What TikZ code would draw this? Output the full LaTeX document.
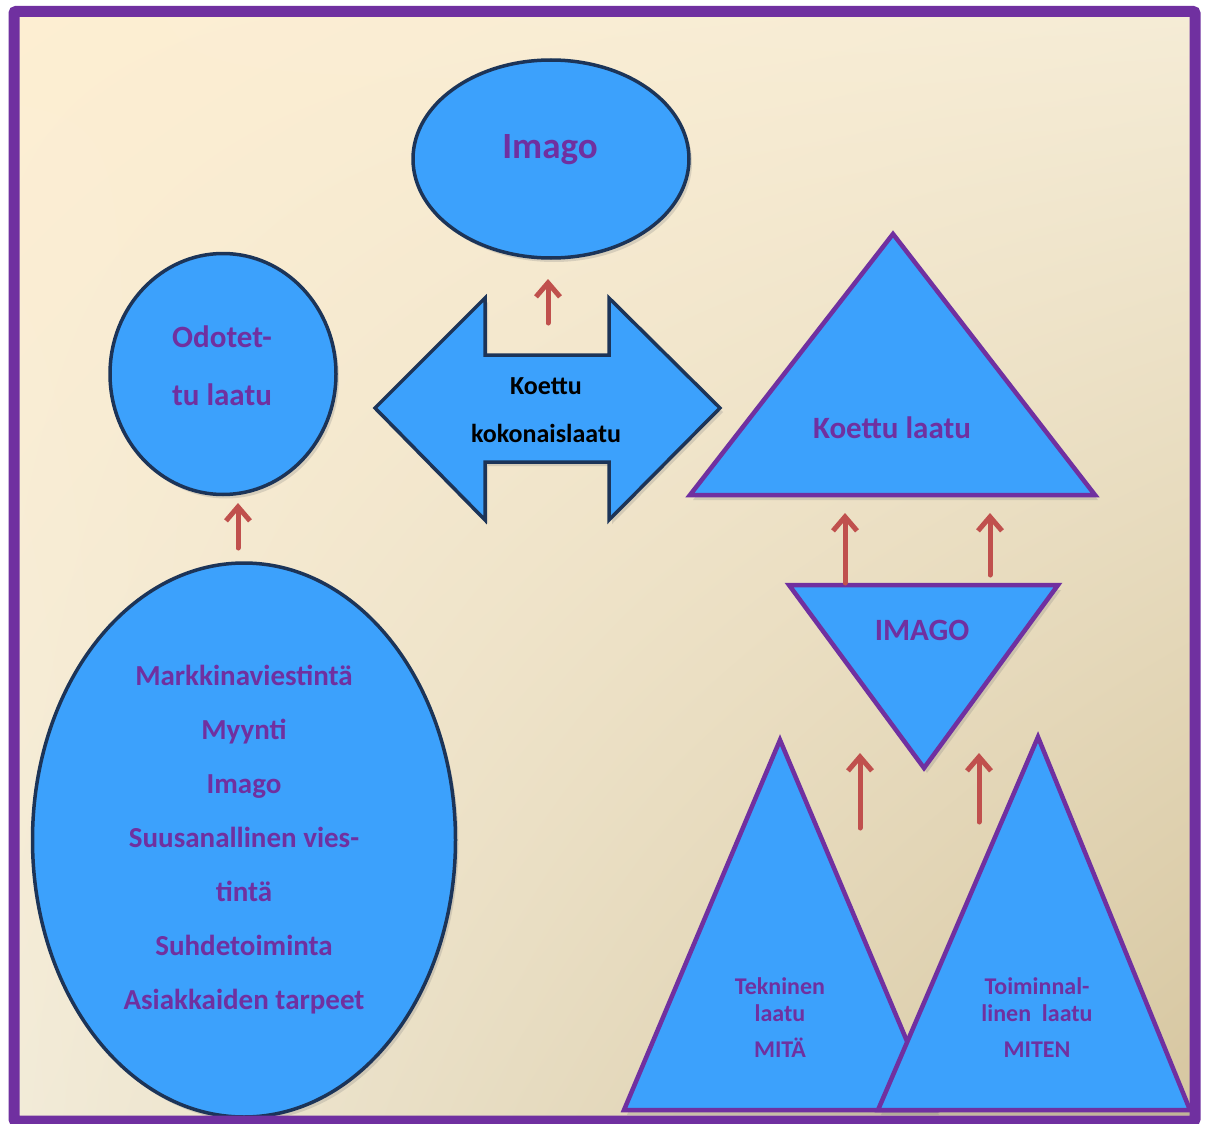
\documentclass[tikz,border=0pt]{standalone}
\usepackage{fontspec}
\setmainfont{Carlito}
\usetikzlibrary{shapes.geometric,arrows.meta,shadows,shadings}
\definecolor{shapeblue}{RGB}{60,161,252}
\definecolor{txtpurple}{RGB}{112,48,160}
\definecolor{rimnavy}{RGB}{28,52,88}
\definecolor{arrowred}{RGB}{192,80,77}
\definecolor{creamA}{RGB}{253,238,210}
\definecolor{creamB}{RGB}{245,236,214}
\definecolor{creamC}{RGB}{242,235,216}
\definecolor{tanD}{RGB}{214,198,160}

\tikzset{
  blob/.style={ellipse, draw=rimnavy, line width=3.5, fill=shapeblue, inner sep=0pt,
    drop shadow={opacity=0.25, shadow xshift=3pt, shadow yshift=-4pt}},
  tri/.style={draw=txtpurple, line width=4.5, fill=shapeblue, line join=miter,
    drop shadow={opacity=0.25, shadow xshift=3pt, shadow yshift=-5pt}},
  lbl/.style={text=txtpurple, align=center, font=\bfseries\fontsize{31}{58}\selectfont},
  up/.style={draw=arrowred, line width=5, line cap=round,
    -{Straight Barb[length=14pt, width=24pt, line width=5pt]}}
}

\begin{document}
\begin{tikzpicture}[x=1pt, y=-1pt]
  \useasboundingbox (0,0) rectangle (1208,1124);
  \fill[white] (0,0) rectangle (1208,1124);
  \shade[upper left=creamA, upper right=creamB, lower left=creamC, lower right=tanD]
    (14,11) rectangle (1195,1121);

  % left column
  \node[blob, minimum width=226, minimum height=241] (odotettu) at (223,374) {};
  \node[lbl] (odotxt) at (222,366) {Odotet-\\tu laatu};
  \node[blob, minimum width=423, minimum height=554] (lahteet) at (244,840) {};
  \node[lbl, font=\bfseries\fontsize{29}{54}\selectfont] (lahtxt) at (244,840)
    {Markkinaviestintä\\Myynti\\Imago\\Suusanallinen vies-\\tintä\\Suhdetoiminta\\Asiakkaiden tarpeet};

  % middle column
  \node[blob, minimum width=276, minimum height=198] (imago) at (551,159) {};
  \node[lbl, font=\bfseries\fontsize{37}{44}\selectfont] (imatxt) at (550,150) {Imago};
  \draw[draw=rimnavy, line width=3.5, fill=shapeblue, line join=miter,
    drop shadow={opacity=0.25, shadow xshift=3pt, shadow yshift=-4pt}]
    (375,408) -- (485,298) -- (485,355) -- (609,355) -- (609,298) -- (720,408)
    -- (609,520) -- (609,462) -- (485,462) -- (485,520) -- cycle;
  \node[align=center, font=\bfseries\fontsize{26}{48}\selectfont] (kokonais) at (546,410)
    {Koettu\\kokonaislaatu};

  % right column
  \draw[tri] (893,234) -- (1095,495) -- (690,495) -- cycle;
  \node[lbl] (koettu) at (892,428) {Koettu laatu};
  \draw[tri] (789,585) -- (1058,585) -- (924,768) -- cycle;
  \node[lbl] (imagoiso) at (922,630) {IMAGO};
  \draw[tri] (780,740) -- (936,1110) -- (624,1110) -- cycle;
  \draw[tri] (1038,737) -- (1190,1110) -- (878,1110) -- cycle;
  \node[lbl, font=\bfseries\fontsize{24}{27}\selectfont] (tekninen) at (780,1018)
    {Tekninen\\laatu\\[9pt]MITÄ};
  \node[lbl, font=\bfseries\fontsize{24}{27}\selectfont] (toiminnal) at (1037,1018)
    {Toiminnal-\\linen\ \ laatu\\[9pt]MITEN};

  % arrow ends
  \coordinate (a1) at (548,323);  \coordinate (a1e) at (548,279);
  \coordinate (a2) at (238,548);  \coordinate (a2e) at (238,503);
  \coordinate (a3) at (845,583);  \coordinate (a3e) at (845,513);
  \coordinate (a4) at (990,575);  \coordinate (a4e) at (990,513);
  \coordinate (a5) at (860,828);  \coordinate (a5e) at (860,753);
  \coordinate (a6) at (979,822);  \coordinate (a6e) at (979,753);
  \foreach \s/\e in {a1/a1e, a2/a2e, a3/a3e, a4/a4e, a5/a5e, a6/a6e}
    \draw[up] (\s) -- (\e);

  % frame
  \draw[txtpurple, line width=11, rounded corners=2] (14,11.5) rectangle (1195,1121);
\end{tikzpicture}
\end{document}
